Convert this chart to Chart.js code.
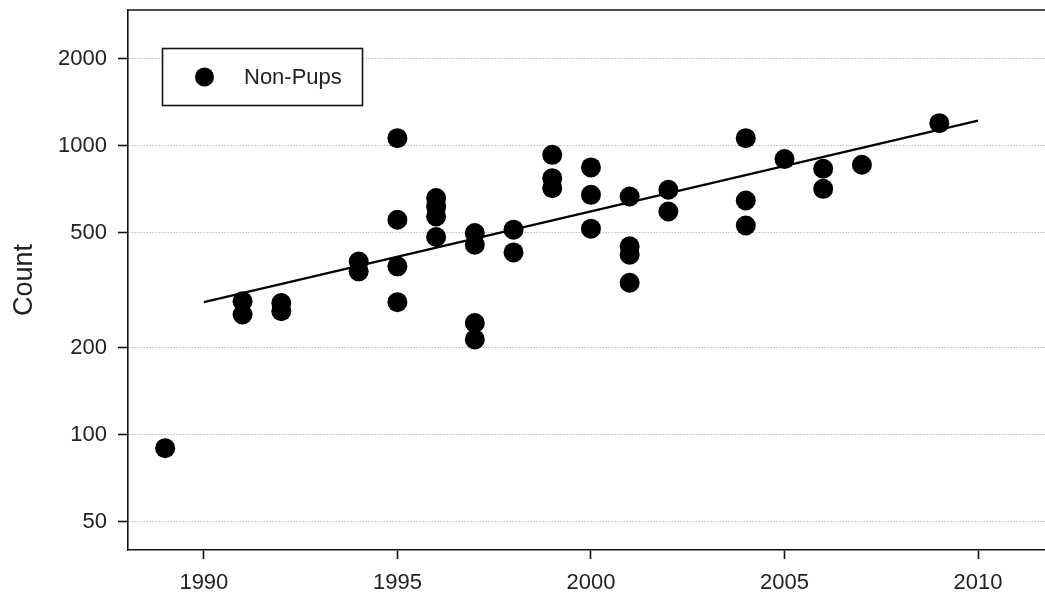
<!DOCTYPE html>
<html>
<head>
<meta charset="utf-8">
<title>Non-Pups count by year</title>
<script src="https://cdn.jsdelivr.net/npm/chart.js@4/dist/chart.umd.min.js"></script>
<style>
  html, body { margin: 0; padding: 0; background: #ffffff; }
  #wrap { width: 1045px; height: 594px; }
</style>
</head>
<body>
<div id="wrap"><canvas id="chart" width="1045" height="594"></canvas></div>
<script>
// Survey counts (one entry per survey)
const surveyYears = [1989, 1991, 1991, 1992, 1992, 1994, 1994, 1995, 1995, 1995, 1995,
  1996, 1996, 1996, 1996, 1997, 1997, 1997, 1997, 1998, 1998, 1999, 1999, 1999,
  2000, 2000, 2000, 2001, 2001, 2001, 2001, 2002, 2002, 2004, 2004, 2004, 2005,
  2006, 2006, 2007, 2009];
const nonPupCounts = [90, 290, 261, 286, 268, 398, 368, 1063, 555, 383, 288,
  660, 616, 570, 484, 499, 455, 244, 214, 513, 428, 931, 773, 714,
  842, 677, 517, 668, 449, 420, 336, 705, 593, 1063, 647, 530, 900,
  833, 710, 860, 1198];

// Fitted exponential trend, end points
const trendYears = [1990, 2010];
const trendCounts = [288, 1223];

// Axis ticks
const yearTicks = [1990, 1995, 2000, 2005, 2010];
const countTicks = [50, 100, 200, 500, 1000, 2000];

const seriesLabel = 'Non-Pups';
const axisTitle = 'Count';

const FONT = '"Liberation Sans", Arial, sans-serif';
const INK = '#111111';

// Frame line along the top of the plot region
const frameTop = {
  id: 'frameTop',
  afterDraw(chart) {
    const { ctx, chartArea } = chart;
    ctx.save();
    ctx.strokeStyle = INK;
    ctx.lineWidth = 1.6;
    ctx.beginPath();
    ctx.moveTo(chartArea.left, chartArea.top);
    ctx.lineTo(chart.width, chartArea.top);
    ctx.stroke();
    ctx.restore();
  }
};

// Boxed legend inside the plot region
const boxedLegend = {
  id: 'boxedLegend',
  afterDraw(chart) {
    const { ctx } = chart;
    const x0 = 162.5, y0 = 48.5, w = 200, h = 57;
    ctx.save();
    ctx.fillStyle = '#ffffff';
    ctx.fillRect(x0, y0, w, h);
    ctx.strokeStyle = INK;
    ctx.lineWidth = 1.6;
    ctx.strokeRect(x0, y0, w, h);
    ctx.fillStyle = '#000000';
    ctx.beginPath();
    ctx.arc(204.5, 77, 9.5, 0, Math.PI * 2);
    ctx.fill();
    ctx.fillStyle = '#222222';
    ctx.font = '22px ' + FONT;
    ctx.textBaseline = 'middle';
    ctx.textAlign = 'left';
    ctx.fillText(chart.data.datasets[0].label, 244, 78);
    ctx.restore();
  }
};

const ctx = document.getElementById('chart').getContext('2d');
new Chart(ctx, {
  type: 'scatter',
  data: {
    datasets: [
      {
        label: seriesLabel,
        data: surveyYears.map((yr, i) => ({ x: yr, y: nonPupCounts[i] })),
        backgroundColor: '#000000',
        borderWidth: 0,
        pointRadius: 10,
        pointHoverRadius: 10,
        order: 2
      },
      {
        label: 'Trend',
        type: 'line',
        data: trendYears.map((yr, i) => ({ x: yr, y: trendCounts[i] })),
        borderColor: '#000000',
        borderWidth: 2.2,
        pointRadius: 0,
        fill: false,
        tension: 0,
        order: 1
      }
    ]
  },
  options: {
    responsive: false,
    animation: false,
    events: [],
    layout: { autoPadding: false, padding: { top: 10, right: 0, bottom: 0, left: 0 } },
    plugins: {
      legend: { display: false },
      tooltip: { enabled: false }
    },
    scales: {
      x: {
        type: 'linear',
        min: 1988.04,
        max: 2011.73,
        afterBuildTicks(scale) {
          scale.ticks = yearTicks.map(v => ({ value: v }));
        },
        afterFit(scale) {
          scale.height = 44;
          scale.paddingLeft = 0;
          scale.paddingRight = 0;
        },
        border: { display: true, color: INK, width: 1.6 },
        grid: {
          display: true,
          drawOnChartArea: false,
          drawTicks: true,
          tickLength: 9,
          tickColor: INK,
          tickWidth: 1.6
        },
        ticks: {
          color: '#222222',
          font: { family: FONT, size: 22 },
          padding: 11,
          maxRotation: 0,
          autoSkip: false,
          callback: v => String(v)
        }
      },
      y: {
        type: 'logarithmic',
        min: 40,
        max: 2950,
        afterBuildTicks(scale) {
          scale.ticks = countTicks.map(v => ({ value: v }));
        },
        afterFit(scale) {
          scale.width = 128;
          scale.paddingTop = 0;
          scale.paddingBottom = 0;
        },
        border: { display: true, color: INK, width: 1.6, dash: [1, 2] },
        grid: {
          display: true,
          drawOnChartArea: true,
          color: '#9c9c9c',
          lineWidth: 1,
          drawTicks: true,
          tickLength: 10,
          tickColor: INK,
          tickWidth: 1.6,
          tickBorderDash: []
        },
        ticks: {
          color: '#222222',
          font: { family: FONT, size: 22 },
          padding: 11,
          autoSkip: false,
          callback: v => String(v)
        },
        title: {
          display: true,
          text: axisTitle,
          color: '#222222',
          font: { family: FONT, size: 27 },
          padding: { top: 8, bottom: 0 }
        }
      }
    }
  },
  plugins: [frameTop, boxedLegend]
});
</script>
</body>
</html>
